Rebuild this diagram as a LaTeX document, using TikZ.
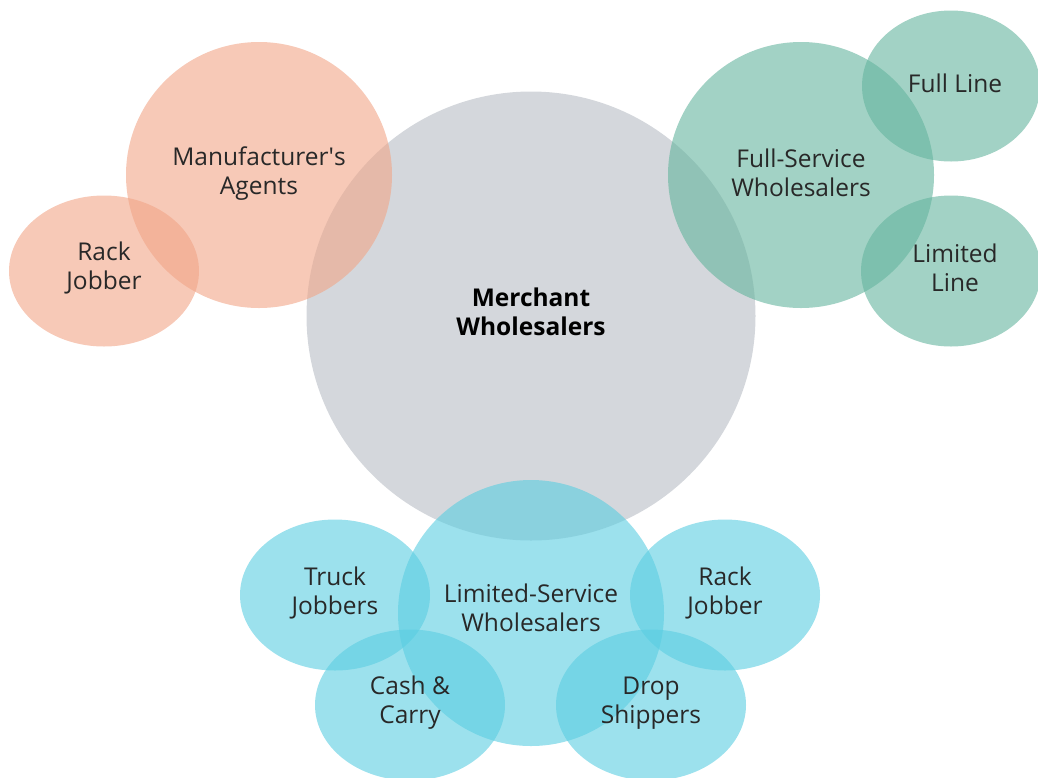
\documentclass[tikz,border=0pt]{standalone}
\usepackage{fontspec}
\setmainfont{Open Sans}
\usetikzlibrary{shapes.geometric}
\definecolor{mwGrey}{RGB}{184,189,196}
\definecolor{mwSalmon}{RGB}{241,165,135}
\definecolor{mwTeal}{RGB}{100,180,158}
\definecolor{mwCyan}{RGB}{90,205,225}
\definecolor{mwText}{RGB}{40,40,40}

\begin{document}
\begin{tikzpicture}[x=1pt,y=-1pt,font=\fontsize{24.5}{29}\selectfont,
 blob/.style={ellipse,inner sep=0pt,draw=none,fill opacity=.6,minimum width=190pt,minimum height=151pt},
 disc/.style={blob,minimum width=266pt,minimum height=266pt},
 lbl/.style={align=center,text=mwText,inner sep=0pt}]
\path[use as bounding box] (0,0) rectangle (1038,777);
% circles
\node[disc,fill=mwGrey,minimum width=449pt,minimum height=449pt] (merchant) at (531,316) {};
\node[disc,fill=mwSalmon] (agents) at (259,175) {};
\node[blob,fill=mwSalmon] (rackL) at (104,271) {};
\node[disc,fill=mwTeal] (full) at (801,175) {};
\node[blob,fill=mwTeal,minimum width=178pt] (fullLine) at (951,86) {};
\node[blob,fill=mwTeal,minimum width=180pt] (limLine) at (951,271) {};
\node[disc,fill=mwCyan] (limited) at (531,613) {};
\node[blob,fill=mwCyan] (truck) at (335,595) {};
\node[blob,fill=mwCyan] (rackR) at (725,595) {};
\node[blob,fill=mwCyan] (cash) at (410,705) {};
\node[blob,fill=mwCyan] (drop) at (651,705) {};
% labels
\node[lbl,text=black,font=\fontsize{24.5}{29}\selectfont\bfseries] (merchantLbl) at ([yshift=4pt]merchant) {Merchant\\Wholesalers};
\node[lbl] (agentsLbl) at ([yshift=1pt]agents) {Manufacturer\textquotesingle s\\Agents};
\node[lbl] (rackLLbl) at ([yshift=3pt]rackL) {Rack\\Jobber};
\node[lbl] (fullLbl) at ([yshift=2pt]full) {Full-Service\\Wholesalers};
\node[lbl] (fullLineLbl) at ([xshift=4pt,yshift=3pt]fullLine) {Full Line};
\node[lbl] (limLineLbl) at ([xshift=4pt,yshift=3pt]limLine) {Limited\\Line};
\node[lbl] (limitedLbl) at ([yshift=5pt]limited) {Limited-Service\\Wholesalers};
\node[lbl] (truckLbl) at ([yshift=2pt]truck) {Truck\\Jobbers};
\node[lbl] (rackRLbl) at ([yshift=2pt]rackR) {Rack\\Jobber};
\node[lbl] (cashLbl) at ([yshift=2pt]cash) {Cash \&\\Carry};
\node[lbl] (dropLbl) at ([yshift=2pt]drop) {Drop\\Shippers};
\end{tikzpicture}
\end{document}
